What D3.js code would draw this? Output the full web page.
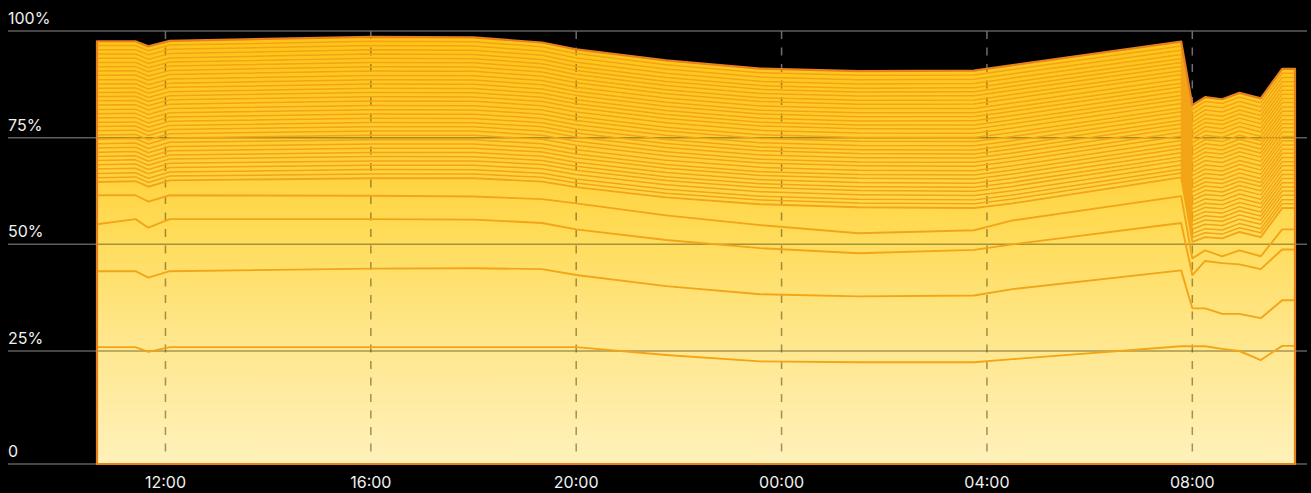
<!DOCTYPE html>
<html>
<head>
<meta charset="utf-8">
<script src="https://cdn.jsdelivr.net/npm/d3@7"></script>
<style>
html, body { margin: 0; padding: 0; background: #000; }
svg { display: block; font-family: Inter, "Noto Sans", sans-serif; }
</style>
</head>
<body>
<svg id="chart" width="1311" height="493"></svg>
<script>
// sample times (day 1 -> day 2)
const times = ["2024-03-01 10:40","2024-03-01 11:25","2024-03-01 11:40","2024-03-01 12:05","2024-03-01 16:00",
  "2024-03-01 18:00","2024-03-01 19:20","2024-03-01 20:00","2024-03-01 21:45","2024-03-01 23:35",
  "2024-03-02 01:30","2024-03-02 03:45","2024-03-02 04:30","2024-03-02 07:47","2024-03-02 08:00",
  "2024-03-02 08:15","2024-03-02 08:35","2024-03-02 08:55","2024-03-02 09:20","2024-03-02 09:45","2024-03-02 10:00"];

// the five big layers (percent share)
const layer1 = [25.9,25.9,24.8,25.9,25.9,25.9,25.9,25.9,24.1,22.7,22.5,22.5,23.2,26.1,26.1,26.1,25.5,25.0,23.0,26.2,26.2];
const layer2 = [17.8,17.8,17.4,17.8,18.4,18.5,18.3,16.9,16.1,15.6,15.3,15.5,16.3,17.8,8.9,8.9,8.2,8.7,9.7,10.7,10.7];
const layer3 = [11.0,12.2,11.7,12.2,11.6,11.4,10.8,10.7,10.8,10.8,10.1,10.7,10.5,11.1,7.8,11.1,11.9,11.6,11.5,11.9,11.9];
const layer4 = [6.8,5.6,6.1,5.6,5.5,5.4,5.6,6.1,5.8,5.4,4.7,4.6,5.6,6.3,3.9,2.5,1.6,3.3,3.0,4.7,4.7];
const layer5 = [3.1,3.3,3.5,3.5,4.1,4.3,4.1,3.8,4.2,4.9,6.1,5.2,4.0,4.4,3.9,3.1,4.2,4.3,4.5,5.0,5.0];

// the many thin layers on top (about 1% each)
const thinLayers = [
  [1.00,1.00,1.00,1.00,1.00,1.00,1.00,1.00,1.00,1.00,1.00,1.00,1.00,1.00,1.00,1.00,1.00,1.00,1.00,1.00,1.00],
  [1.00,0.98,0.99,0.97,1.01,1.00,0.96,0.93,0.91,0.88,0.89,0.92,0.94,0.88,0.90,0.98,0.96,0.96,0.95,0.96,0.96],
  [1.04,1.04,1.04,1.04,1.04,1.04,1.04,1.04,1.04,1.04,1.04,1.04,1.04,1.04,1.04,1.04,1.04,1.04,1.04,1.04,1.04],
  [1.00,1.00,1.00,1.00,1.00,1.00,1.00,1.00,1.00,1.00,1.00,1.00,1.00,1.00,1.00,1.00,1.00,1.00,1.00,1.00,1.00],
  [1.00,0.98,0.99,0.97,1.01,1.00,0.96,0.93,0.91,0.88,0.89,0.92,0.94,0.88,0.90,0.98,0.96,0.96,0.95,0.96,0.96],
  [0.96,0.96,0.96,0.96,0.96,0.96,0.96,0.96,0.96,0.96,0.96,0.96,0.96,0.96,0.96,0.96,0.96,0.96,0.96,0.96,0.96],
  [1.00,1.00,1.00,1.00,1.00,1.00,1.00,1.00,1.00,1.00,1.00,1.00,1.00,1.00,1.00,1.00,1.00,1.00,1.00,1.00,1.00],
  [1.00,0.98,0.99,0.97,1.01,1.00,0.96,0.93,0.91,0.88,0.89,0.92,0.94,0.88,0.90,0.98,0.96,0.96,0.95,0.96,0.96],
  [1.00,1.00,1.00,1.00,1.00,1.00,1.00,1.00,1.00,1.00,1.00,1.00,1.00,1.00,1.00,1.00,1.00,1.00,1.00,1.00,1.00],
  [1.04,1.04,1.04,1.04,1.04,1.04,1.04,1.04,1.04,1.04,1.04,1.04,1.04,1.04,1.04,1.04,1.04,1.04,1.04,1.04,1.04],
  [1.00,0.98,0.99,0.97,1.01,1.00,0.96,0.93,0.91,0.88,0.89,0.92,0.94,0.88,0.90,0.98,0.96,0.96,0.95,0.96,0.96],
  [1.00,1.00,1.00,1.00,1.00,1.00,1.00,1.00,1.00,1.00,1.00,1.00,1.00,1.00,1.00,1.00,1.00,1.00,1.00,1.00,1.00],
  [0.96,0.96,0.96,0.96,0.96,0.96,0.96,0.96,0.96,0.96,0.96,0.96,0.96,0.96,0.96,0.96,0.96,0.96,0.96,0.96,0.96],
  [1.00,0.98,0.99,0.97,1.01,1.00,0.96,0.93,0.91,0.88,0.89,0.92,0.94,0.88,0.90,0.98,0.96,0.96,0.95,0.96,0.96],
  [1.00,1.00,1.00,1.00,1.00,1.00,1.00,1.00,1.00,1.00,1.00,1.00,1.00,1.00,1.00,1.00,1.00,1.00,1.00,1.00,1.00],
  [1.00,1.00,1.00,1.00,1.00,1.00,1.00,1.00,1.00,1.00,1.00,1.00,1.00,1.00,1.00,1.00,1.00,1.00,1.00,1.00,1.00],
  [1.00,0.98,0.99,0.97,1.01,1.00,0.96,0.93,0.91,0.88,0.89,0.92,0.94,0.88,0.90,0.98,0.96,0.96,0.95,0.96,0.96],
  [1.04,1.04,1.04,1.04,1.04,1.04,1.04,1.04,1.04,1.04,1.04,1.04,1.04,1.04,1.04,1.04,1.04,1.04,1.04,1.04,1.04],
  [1.00,1.00,1.00,1.00,1.00,1.00,1.00,1.00,1.00,1.00,1.00,1.00,1.00,1.00,1.00,1.00,1.00,1.00,1.00,1.00,1.00],
  [1.00,0.98,0.99,0.97,1.01,1.00,0.96,0.93,0.91,0.88,0.89,0.92,0.94,0.88,0.90,0.98,0.96,0.96,0.95,0.96,0.96],
  [0.96,0.96,0.96,0.96,0.96,0.96,0.96,0.96,0.96,0.96,0.96,0.96,0.96,0.96,0.96,0.96,0.96,0.96,0.96,0.96,0.96],
  [1.00,1.00,1.00,1.00,1.00,1.00,1.00,1.00,1.00,1.00,1.00,1.00,1.00,1.00,1.00,1.00,1.00,1.00,1.00,1.00,1.00],
  [1.00,0.98,0.99,0.97,1.01,1.00,0.96,0.93,0.91,0.88,0.89,0.92,0.94,0.88,0.90,0.98,0.96,0.96,0.95,0.96,0.96],
  [1.00,1.00,1.00,1.00,1.00,1.00,1.00,1.00,1.00,1.00,1.00,1.00,1.00,1.00,1.00,1.00,1.00,1.00,1.00,1.00,1.00],
  [1.04,1.04,1.04,1.04,1.04,1.04,1.04,1.04,1.04,1.04,1.04,1.04,1.04,1.04,1.04,1.04,1.04,1.04,1.04,1.04,1.04],
  [1.00,0.98,0.99,0.97,1.01,1.00,0.96,0.93,0.91,0.88,0.89,0.92,0.94,0.88,0.90,0.98,0.96,0.96,0.95,0.96,0.96],
  [1.00,1.00,1.00,1.00,1.00,1.00,1.00,1.00,1.00,1.00,1.00,1.00,1.00,1.00,1.00,1.00,1.00,1.00,1.00,1.00,1.00],
  [0.96,0.96,0.96,0.96,0.96,0.96,0.96,0.96,0.96,0.96,0.96,0.96,0.96,0.96,0.96,0.96,0.96,0.96,0.96,0.96,0.96],
  [1.00,0.98,0.99,0.97,1.01,1.00,0.96,0.93,0.91,0.88,0.89,0.92,0.94,0.88,0.90,0.98,0.96,0.96,0.95,0.96,0.96],
  [1.00,1.00,1.00,1.00,1.00,1.00,1.00,1.00,1.00,1.00,1.00,1.00,1.00,1.00,1.00,1.00,1.00,1.00,1.00,1.00,1.00],
  [1.00,1.00,1.00,1.00,1.00,1.00,1.00,1.00,1.00,1.00,1.00,1.00,1.00,1.00,1.00,1.00,1.00,1.00,1.00,1.00,1.00],
  [1.00,1.00,1.00,1.00,1.00,1.00,1.00,1.00,1.00,1.00,1.00,1.00,1.00,1.00,1.00,1.00,1.00,1.00,1.00,1.00,1.00],
  [1.00,1.00,1.00,1.00,1.00,1.00,1.00,1.00,1.00,1.00,1.00,1.00,1.00,1.00,1.00,1.00,1.00,1.00,1.00,1.00,1.00]
];

const yTicks = [0, 25, 50, 75, 100];
const yLabels = ["0", "25%", "50%", "75%", "100%"];

const svg = d3.select("#chart");
const W = +svg.attr("width");

const parse = d3.timeParse("%Y-%m-%d %H:%M");
const allLayers = [layer1, layer2, layer3, layer4, layer5].concat(thinLayers);
const keys = allLayers.map((s, j) => "s" + j);
const rows = times.map((t, i) => {
  const r = {time: parse(t)};
  allLayers.forEach((s, j) => { r["s" + j] = s[i]; });
  return r;
});
const series = d3.stack().keys(keys)(rows);

const x = d3.scaleTime().domain(d3.extent(rows, d => d.time)).range([97, 1295]);
const y = d3.scaleLinear().domain([0, 25, 100]).range([464, 351, 31]);

const defs = svg.append("defs");
const grad = defs.append("linearGradient")
  .attr("id", "fillGrad").attr("gradientUnits", "userSpaceOnUse")
  .attr("x1", 0).attr("y1", y(0)).attr("x2", 0).attr("y2", y(100));
[[0, "#fff1bb"], [0.3, "#ffe68a"], [0.55, "#ffdb55"], [0.75, "#ffcd30"], [1, "#ffc414"]]
  .forEach(s => grad.append("stop").attr("offset", s[0]).attr("stop-color", s[1]));

const topSeries = series[series.length - 1];
const totalArea = d3.area()
  .x(d => x(d.data.time)).y0(y(0)).y1(d => y(d[1]));
defs.append("clipPath").attr("id", "plotClip")
  .append("path").attr("d", totalArea(topSeries));

// grid under the areas
const grid = svg.append("g");
grid.selectAll("line.h").data(yTicks).enter().append("line")
  .attr("x1", 8).attr("x2", W - 4)
  .attr("y1", d => y(d)).attr("y2", d => y(d))
  .attr("stroke", "#5e5e5e").attr("stroke-width", 1.5);

const xTicks = x.ticks(d3.timeHour.every(4));
grid.selectAll("line.v").data(xTicks).enter().append("line")
  .attr("x1", d => x(d)).attr("x2", d => x(d))
  .attr("y1", y(100)).attr("y2", 457)
  .attr("stroke", "#6e6e6e").attr("stroke-width", 1.5)
  .attr("stroke-dasharray", "8,8.5");

// stacked areas
const area = d3.area()
  .x(d => x(d.data.time)).y0(d => y(d[0])).y1(d => y(d[1]));
svg.append("g").selectAll("path").data(series).enter().append("path")
  .attr("d", area).attr("fill", "url(#fillGrad)");

// grid showing through the fills (under the layer lines)
const over = svg.append("g").attr("clip-path", "url(#plotClip)");
over.selectAll("line.h").data(yTicks.slice(1, 4)).enter().append("line")
  .attr("x1", 8).attr("x2", W - 4)
  .attr("y1", d => y(d)).attr("y2", d => y(d))
  .attr("stroke", "rgba(80,70,20,0.5)").attr("stroke-width", 1.5);
over.selectAll("line.v").data(xTicks).enter().append("line")
  .attr("x1", d => x(d)).attr("x2", d => x(d))
  .attr("y1", y(100)).attr("y2", 457)
  .attr("stroke", "rgba(80,70,20,0.55)").attr("stroke-width", 1.5)
  .attr("stroke-dasharray", "8,8.5");

const line = d3.line()
  .x(d => x(d.data.time)).y(d => y(d[1]));
svg.append("g").selectAll("path").data(series.slice(0, -1)).enter().append("path")
  .attr("d", line).attr("fill", "none")
  .attr("stroke", "#f3a517")
  .attr("stroke-width", (d, i) => i < 5 ? 1.9 : 1.5)
  .attr("stroke-linejoin", "round");

// outer outline
svg.append("path").attr("d", totalArea(topSeries))
  .attr("fill", "none").attr("stroke", "#e8801c").attr("stroke-width", 2.2)
  .attr("stroke-linejoin", "round");

// labels
svg.append("g").selectAll("text").data(yTicks).enter().append("text")
  .attr("x", 8).attr("y", d => y(d) - 7)
  .attr("fill", "#f0f0f0").style("font-size", "16px")
  .text((d, i) => yLabels[i]);

const fmt = d3.timeFormat("%H:%M");
svg.append("g").selectAll("text").data(xTicks).enter().append("text")
  .attr("x", d => x(d)).attr("y", 488)
  .attr("text-anchor", "middle")
  .attr("fill", "#f0f0f0").style("font-size", "16px")
  .text(d => fmt(d));
</script>
</body>
</html>
